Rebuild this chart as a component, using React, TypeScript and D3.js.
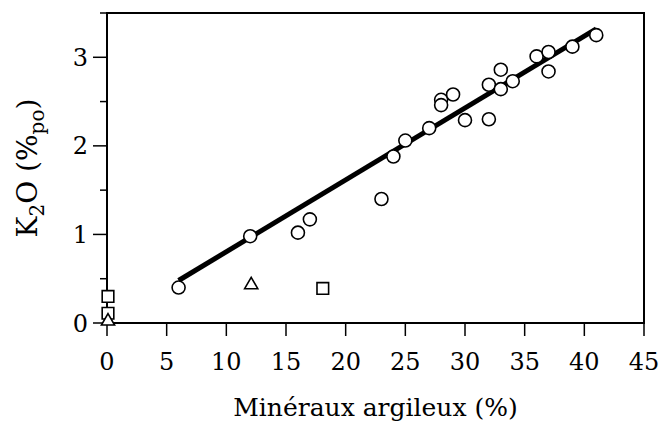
import React from 'react';
import * as d3 from 'd3';

// clay minerals (%) vs K2O (%po)
const circleX = [6, 12, 16, 17, 23, 24, 25, 27, 28, 28, 29, 30, 32, 32, 33, 33, 34, 36, 37, 37, 39, 41];
const circleY = [0.4, 0.98, 1.02, 1.17, 1.4, 1.88, 2.06, 2.2, 2.52, 2.46, 2.58, 2.29, 2.3, 2.69, 2.86, 2.64, 2.73, 3.01, 3.06, 2.84, 3.12, 3.25];
const triangleX = [0, 12];
const triangleY = [0.02, 0.43];
const squareX = [0, 0, 18];
const squareY = [0.3, 0.11, 0.39];
// regression line ends
const fitX = [6, 41];
const fitY = [0.48, 3.32];

const xTicks = [0, 5, 10, 15, 20, 25, 30, 35, 40, 45];
const yMajor = [0, 1, 2, 3];
const yMinor = [0.5, 1.5, 2.5, 3.5];

const W = 661;
const H = 423;
const margin = { top: 13, right: 17, bottom: 100, left: 107 };

const serif = { fontFamily: "'DejaVu Serif', 'Liberation Serif', serif" };

const App: React.FC = () => {
  const x = d3.scaleLinear().domain([0, 45]).range([margin.left, W - margin.right]);
  const y = d3.scaleLinear().domain([0, 3.5]).range([H - margin.bottom, margin.top]);

  const line = d3.line<number>()
    .x((_, i) => x(fitX[i]))
    .y((d) => y(d));

  const sq = d3.symbol().type(d3.symbolSquare).size(135)();
  const tri = d3.symbol().type(d3.symbolTriangle).size(75)();

  const x0 = x(0);
  const yBase = y(0);

  return (
    <svg width={W} height={H} style={{ position: 'absolute', left: 0, top: 0, background: '#fff' }}>
      {/* y ticks */}
      {yMajor.map(v => (
        <g key={'ym' + v}>
          <line x1={x0 - 14} x2={x0} y1={y(v)} y2={y(v)} stroke="#000" strokeWidth={1.5} />
          <text x={x0 - 19} y={y(v)} dy="0.36em" textAnchor="end" fontSize={24} style={serif}>{v}</text>
        </g>
      ))}
      {yMinor.map(v => (
        <line key={'yn' + v} x1={x0 - 7} x2={x0} y1={y(v)} y2={y(v)} stroke="#000" strokeWidth={1.5} />
      ))}
      {/* x ticks */}
      {xTicks.map(v => (
        <g key={'x' + v}>
          <line x1={x(v)} x2={x(v)} y1={yBase} y2={yBase + 13} stroke="#000" strokeWidth={1.5} />
          <text x={x(v)} y={yBase + 47} textAnchor="middle" fontSize={24} style={serif}>{v}</text>
        </g>
      ))}
      {/* frame */}
      <rect x={x0} y={y(3.5)} width={x(45) - x0} height={yBase - y(3.5)}
        fill="none" stroke="#000" strokeWidth={2} />

      {/* fit line */}
      <path d={line(fitY) || ''} fill="none" stroke="#000" strokeWidth={5} />

      {circleX.map((v, i) => (
        <circle key={'c' + i} cx={x(v)} cy={y(circleY[i])} r={6.5} fill="#fff" stroke="#000" strokeWidth={1.6} />
      ))}
      {squareX.map((v, i) => (
        <path key={'s' + i} d={sq || ''} transform={`translate(${x(v) + 1},${y(squareY[i])})`}
          fill="#fff" stroke="#000" strokeWidth={1.6} />
      ))}
      {triangleX.map((v, i) => (
        <path key={'t' + i} d={tri || ''} transform={`translate(${x(v) + 1},${y(triangleY[i])})`}
          fill="#fff" stroke="#000" strokeWidth={1.6} />
      ))}

      {/* axis titles */}
      <text x={(x0 + x(45)) / 2} y={H - 7} textAnchor="middle" fontSize={25} style={serif}>Minéraux argileux (%)</text>
      <text transform={`translate(37,${(y(0) + y(3.5)) / 2}) rotate(-90)`} textAnchor="middle" fontSize={28} style={serif}>
        K<tspan fontSize={20} dy={7}>2</tspan><tspan dy={-7}>O (%</tspan><tspan fontSize={20} dy={7}>po</tspan><tspan dy={-7}>)</tspan>
      </text>
    </svg>
  );
};

export default App;
